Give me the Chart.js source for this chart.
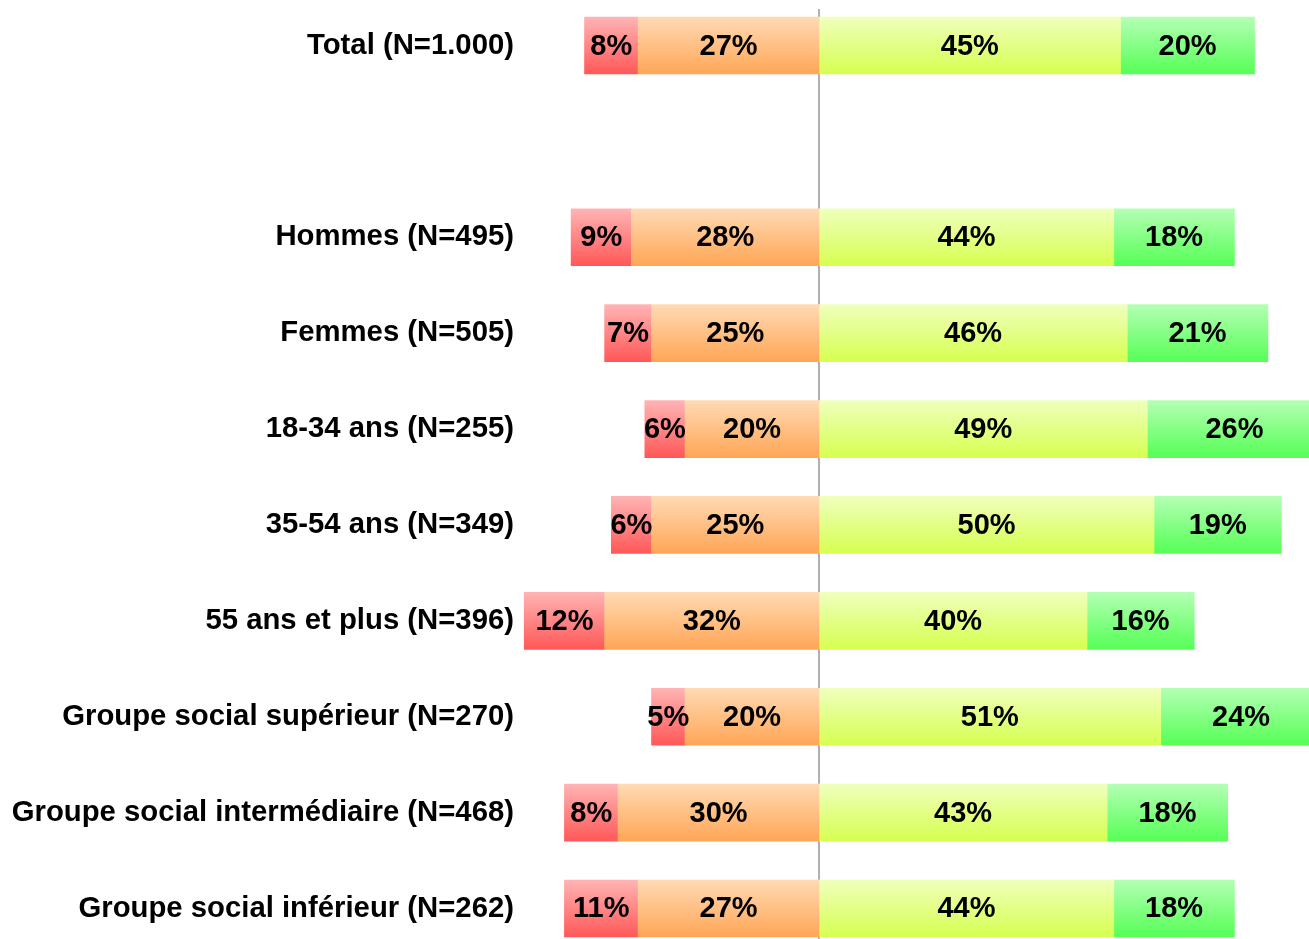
<!DOCTYPE html>
<html>
<head>
<meta charset="utf-8">
<script src="https://cdn.jsdelivr.net/npm/chart.js@4/dist/chart.umd.min.js"></script>
<style>
  html, body { margin: 0; padding: 0; background: #fff; overflow: hidden; }
  #wrap { position: absolute; left: 0; top: -26px; width: 1309px; height: 1006px; }
</style>
</head>
<body>
<div id="wrap"><canvas id="chart"></canvas></div>
<script>
// categories (the empty one is the gap under Total)
const groups = [
  'Total (N=1.000)',
  '',
  'Hommes (N=495)',
  'Femmes (N=505)',
  '18-34 ans (N=255)',
  '35-54 ans (N=349)',
  '55 ans et plus (N=396)',
  'Groupe social supérieur (N=270)',
  'Groupe social intermédiaire (N=468)',
  'Groupe social inférieur (N=262)'
];

// negative side (shown left of zero)
const tresNeg = [-8, null, -9, -7, -6, -6, -12, -5, -8, -11];
const plutotNeg = [-27, null, -28, -25, -20, -25, -32, -20, -30, -27];
// positive side
const plutotPos = [45, null, 44, 46, 49, 50, 40, 51, 43, 44];
const tresPos = [20, null, 18, 21, 26, 19, 16, 24, 18, 18];

const barH = 57;

// vertical gradient for each bar, top colour -> bottom colour
function grad(top, bottom) {
  return (ctx) => {
    const chart = ctx.chart;
    const y = chart.scales.y;
    if (!chart.chartArea || !y || ctx.dataIndex === undefined) return bottom;
    const yc = y.getPixelForValue(ctx.dataIndex);
    const g = chart.ctx.createLinearGradient(0, yc - barH / 2, 0, yc + barH / 2);
    g.addColorStop(0, top);
    g.addColorStop(1, bottom);
    return g;
  };
}

// labels in the middle of every segment
const valueLabels = {
  id: 'valueLabels',
  afterDatasetsDraw(chart) {
    const c = chart.ctx;
    c.save();
    c.font = 'bold 29px "Liberation Sans", Arial, sans-serif';
    c.fillStyle = '#000';
    c.textAlign = 'center';
    c.textBaseline = 'middle';
    chart.data.datasets.forEach((ds, i) => {
      chart.getDatasetMeta(i).data.forEach((bar, j) => {
        const v = ds.data[j];
        if (v === null || v === undefined) return;
        c.fillText(Math.abs(v) + '%', (bar.x + bar.base) / 2, bar.y + 1);
      });
    });
    c.restore();
  }
};

// gray line at zero
const zeroLine = {
  id: 'zeroLine',
  beforeDatasetsDraw(chart) {
    const x = chart.scales.x.getPixelForValue(0);
    const c = chart.ctx;
    c.save();
    c.strokeStyle = '#b0b0b0';
    c.lineWidth = 2;
    c.beginPath();
    c.moveTo(x, 35);
    c.lineTo(x, chart.height);
    c.stroke();
    c.restore();
  }
};

const common = { barThickness: barH, borderWidth: 0 };

new Chart(document.getElementById('chart'), {
  type: 'bar',
  data: {
    labels: groups,
    datasets: [
      Object.assign({ label: 'plutotNeg', data: plutotNeg, backgroundColor: grad('#ffdab4', '#ffa656') }, common),
      Object.assign({ label: 'tresNeg', data: tresNeg, backgroundColor: grad('#ffb4b4', '#ff5858') }, common),
      Object.assign({ label: 'plutotPos', data: plutotPos, backgroundColor: grad('#f0ffbc', '#d6ff50') }, common),
      Object.assign({ label: 'tresPos', data: tresPos, backgroundColor: grad('#b4ffb4', '#56ff56') }, common)
    ]
  },
  options: {
    indexAxis: 'y',
    responsive: true,
    maintainAspectRatio: false,
    animation: false,
    layout: { padding: 0 },
    plugins: { legend: { display: false }, tooltip: { enabled: false } },
    scales: {
      x: {
        stacked: true,
        display: false,
        min: -44.63,
        max: 73.13
      },
      y: {
        stacked: true,
        grid: { display: false, drawTicks: false },
        border: { display: false },
        ticks: {
          color: '#000',
          padding: 6,
          font: { family: '"Liberation Sans", Arial, sans-serif', size: 29.3, weight: 'bold' }
        },
        afterFit(scale) { scale.width = 520; }
      }
    }
  },
  plugins: [zeroLine, valueLabels]
});
</script>
</body>
</html>
